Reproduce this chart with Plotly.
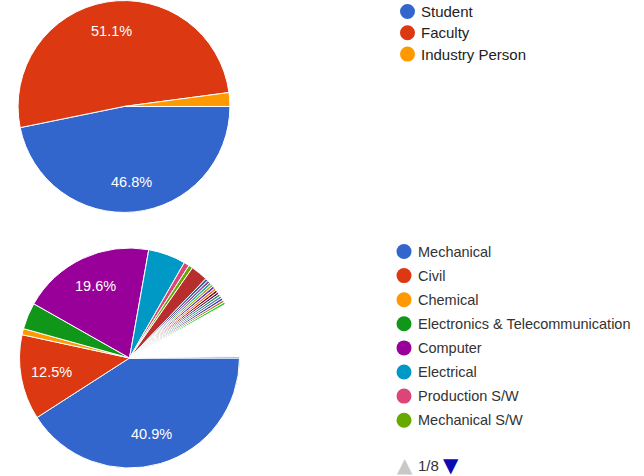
import math
import plotly.graph_objects as go

# ---- Respondent type ----
role_labels = ["Student", "Faculty", "Industry Person"]
role_values = [46.8, 51.1, 2.1]
role_colors = ["#3366cc", "#dc3912", "#ff9900"]

# ---- Branch of respondents ----
branch_labels = [
    "Mechanical", "Civil", "Chemical", "Electronics & Telecommunication",
    "Computer", "Electrical", "Production S/W", "Mechanical S/W",
]
branch_values = [40.9, 12.5, 0.9, 3.9, 19.6, 5.5, 0.8, 0.6]
# remaining (smaller) branches, listed on later legend pages
minor_values = [2.5,
                0.40, 0.38, 0.36, 0.36, 0.38, 0.34, 0.36, 0.34, 0.36, 0.34,
                0.36, 0.34, 0.36, 0.32]
faint_values = [0.24, 0.23, 0.22, 0.23, 0.22, 0.22, 0.23, 0.22, 0.22, 0.23,
                0.22, 0.22, 0.22, 0.23, 0.22, 0.22, 0.22, 0.23, 0.22, 0.22,
                0.22, 0.22, 0.23, 0.22, 0.22, 0.22, 0.22, 0.23, 0.22, 0.22,
                0.22, 0.22, 0.22, 0.22, 0.22]

palette = ["#3366cc", "#dc3912", "#ff9900", "#109618", "#990099", "#0099c6",
           "#dd4477", "#66aa00", "#b82e2e", "#316395", "#994499", "#22aa99",
           "#aaaa11", "#6633cc", "#e67300", "#8b0707", "#651067", "#329262",
           "#5574a6", "#3b3eac", "#b77322", "#16d620"]
page_info = "1/8"

all_labels = branch_labels + [f"Other branch {i + 1}" for i in range(len(minor_values) + len(faint_values))]
all_values = branch_values + minor_values + faint_values
all_colors = palette[:len(branch_values) + len(minor_values)] + ["#ffffff"] * len(faint_values)

W, H = 644, 476
FONT = "Arial, Liberation Sans, sans-serif"
SHOW_MIN = 10.0    # slices below this share get no percentage label
LABEL_R = 0.72     # label distance from centre, as a fraction of the radius

TOP_DOM = dict(x=[0.028, 0.357], y=[0.5536, 0.999])
BOT_DOM = dict(x=[0.0303, 0.3719], y=[0.0168, 0.479])

fig = go.Figure()


def add_pie(labels, values, colors, dom):
    fig.add_trace(go.Pie(
        labels=labels, values=values, sort=False, direction="clockwise",
        rotation=90, domain=dom, textinfo="none",
        marker=dict(colors=colors, line=dict(color="#ffffff", width=1)),
        showlegend=False, hoverinfo="label+percent",
    ))
    # percentage labels at the middle angle of each large slice
    cx = (dom["x"][0] + dom["x"][1]) / 2 * W
    cy = (1 - (dom["y"][0] + dom["y"][1]) / 2) * H
    r = min((dom["x"][1] - dom["x"][0]) * W, (dom["y"][1] - dom["y"][0]) * H) / 2
    total = sum(values)
    cum = 0.0
    for v in values:
        mid = (cum + v / 2) / total * 2 * math.pi
        cum += v
        if v / total * 100 < SHOW_MIN:
            continue
        px = cx + LABEL_R * r * math.cos(mid)
        py = cy + LABEL_R * r * math.sin(mid)
        fig.add_annotation(
            x=px / W, y=1 - py / H, xref="paper", yref="paper",
            xanchor="center", yanchor="middle",
            text=f"{v / total * 100:.1f}%", showarrow=False,
            font=dict(family=FONT, size=14.5, color="#ffffff"),
        )


def add_legend(labels, colors, dot_x, text_x, top_y, step, size, color):
    # round markers with a text label, one row per entry (pixel positions)
    for i, (lab, col) in enumerate(zip(labels, colors)):
        yc = 1 - (top_y + i * step) / H
        fig.add_shape(
            type="circle", xref="paper", yref="paper",
            xsizemode="pixel", ysizemode="pixel",
            xanchor=dot_x / W, yanchor=yc, x0=-7.5, x1=7.5, y0=-7.5, y1=7.5,
            fillcolor=col, line=dict(width=0),
        )
        fig.add_annotation(
            x=text_x / W, y=yc, xref="paper", yref="paper",
            xanchor="left", yanchor="middle", showarrow=False, text=lab,
            font=dict(family=FONT, size=size, color=color),
        )


add_pie(role_labels, role_values, role_colors, TOP_DOM)
add_pie(all_labels, all_values, all_colors, BOT_DOM)

add_legend(role_labels, role_colors, 407.5, 419, 11.5, 21.3, 15, "#222222")
add_legend(branch_labels, palette[:len(branch_labels)], 404, 415.5, 251.5, 24.1, 14.5, "#333333")

# legend pager: previous (disabled), page counter, next
PAGER_Y = 1 - 465 / H
fig.add_annotation(x=405 / W, y=PAGER_Y, xref="paper", yref="paper",
                   xanchor="center", yanchor="middle", showarrow=False, text="▲",
                   font=dict(family="DejaVu Sans", size=20, color="#c8c8c8"))
fig.add_annotation(x=416 / W, y=PAGER_Y, xref="paper", yref="paper",
                   xanchor="left", yanchor="middle", showarrow=False, text=page_info,
                   font=dict(family=FONT, size=15, color="#333333"))
fig.add_annotation(x=451 / W, y=PAGER_Y, xref="paper", yref="paper",
                   xanchor="center", yanchor="middle", showarrow=False, text="▼",
                   font=dict(family="DejaVu Sans", size=20, color="#0b0bb0"))

fig.update_layout(
    width=W, height=H, margin=dict(l=0, r=0, t=0, b=0),
    paper_bgcolor="#ffffff", plot_bgcolor="#ffffff",
    showlegend=False,
)

fig.write_html("out.html")
